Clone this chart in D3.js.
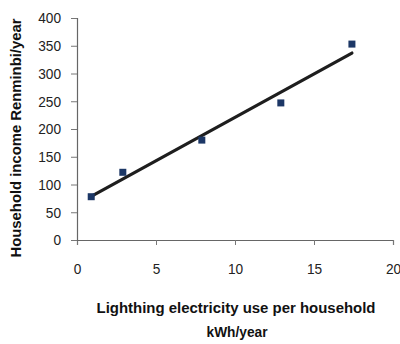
<!DOCTYPE html>
<html>
<head>
<meta charset="utf-8">
<script src="https://cdn.jsdelivr.net/npm/d3@7"></script>
<style>
  body { margin: 0; background: #fff; }
  text { font-family: "Liberation Sans Narrow", "Arial Narrow", "Liberation Sans", sans-serif; }
</style>
</head>
<body>
<svg id="chart" width="400" height="344"></svg>
<script>
// lighting electricity use (kWh/year) and household income (Renminbi/year)
const electricity = [0.9, 2.9, 7.9, 12.9, 17.4]
const income = [78, 122, 180, 247, 353]
const xTicks = [0, 5, 10, 15, 20]
const yTicks = [0, 50, 100, 150, 200, 250, 300, 350, 400]

window.addEventListener('load', makeChart)
function makeChart() {
  const svg = d3.select('#chart')

  const scX = d3.scaleLinear().domain([0, 20]).range([77, 393])
  const scY = d3.scaleLinear().domain([0, 400]).range([240, 18])

  // axes
  const gx = svg
    .append('g')
    .attr('transform', 'translate(0,' + scY(0) + ')')
    .call(d3.axisBottom(scX).tickValues(xTicks).tickSize(5).tickPadding(18))
  const gy = svg
    .append('g')
    .attr('transform', 'translate(' + scX(0) + ',0)')
    .call(d3.axisLeft(scY).tickValues(yTicks).tickSize(6).tickPadding(10))

  ;[gx, gy].forEach((g) => {
    g.select('.domain').attr('stroke', '#666').attr('stroke-width', 1.2)
    g.selectAll('.tick line').attr('stroke', '#777')
    g.selectAll('.tick text')
      .attr('font-size', 15)
      .attr('fill', '#222')
      .attr('textLength', (d) => String(d).length * 7.6)
      .attr('lengthAdjust', 'spacingAndGlyphs')
  })

  // least-squares trend line
  const n = electricity.length
  const mx = d3.mean(electricity),
    my = d3.mean(income)
  const sxy = d3.sum(electricity, (x, i) => (x - mx) * (income[i] - my))
  const sxx = d3.sum(electricity, (x) => (x - mx) * (x - mx))
  const slope = sxy / sxx,
    icpt = my - slope * mx
  const ext = d3.extent(electricity)

  svg
    .append('line')
    .attr('x1', scX(ext[0]))
    .attr('y1', scY(icpt + slope * ext[0]))
    .attr('x2', scX(ext[1]))
    .attr('y2', scY(icpt + slope * ext[1]))
    .attr('stroke', '#1e1e1e')
    .attr('stroke-width', 3.2)
    .attr('stroke-linecap', 'round')

  // markers
  svg
    .selectAll('rect.pt')
    .data(d3.range(n))
    .enter()
    .append('rect')
    .attr('class', 'pt')
    .attr('x', (i) => scX(electricity[i]) - 3.5)
    .attr('y', (i) => scY(income[i]) - 3.5)
    .attr('width', 7)
    .attr('height', 7)
    .attr('fill', '#1c3766')

  // titles
  svg
    .append('text')
    .attr('transform', 'translate(21,138) rotate(-90)')
    .attr('text-anchor', 'middle')
    .attr('font-size', 14)
    .attr('font-weight', 'bold')
    .attr('fill', '#111')
    .attr('textLength', 239)
    .attr('lengthAdjust', 'spacingAndGlyphs')
    .text('Household income Renminbi/year')

  svg
    .append('text')
    .attr('x', 236)
    .attr('y', 313)
    .attr('text-anchor', 'middle')
    .attr('font-size', 14)
    .attr('font-weight', 'bold')
    .attr('fill', '#111')
    .attr('textLength', 279)
    .attr('lengthAdjust', 'spacingAndGlyphs')
    .text('Lighthing electricity use per household')

  svg
    .append('text')
    .attr('x', 237)
    .attr('y', 337)
    .attr('text-anchor', 'middle')
    .attr('font-size', 14)
    .attr('font-weight', 'bold')
    .attr('fill', '#111')
    .attr('textLength', 61)
    .attr('lengthAdjust', 'spacingAndGlyphs')
    .text('kWh/year')
}
</script>
</body>
</html>
